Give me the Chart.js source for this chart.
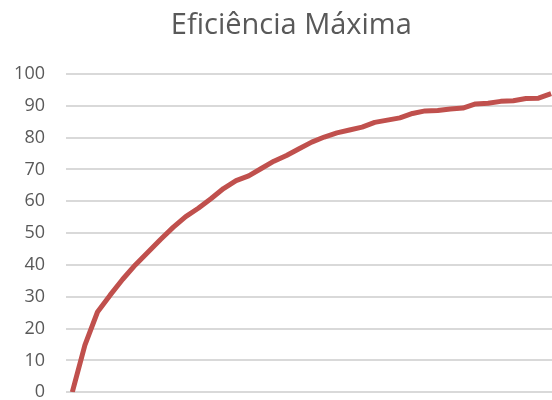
<!DOCTYPE html>
<html>
<head>
<meta charset="utf-8">
<script src="https://cdn.jsdelivr.net/npm/chart.js@4/dist/chart.umd.min.js"></script>
<style>
  html, body { margin: 0; padding: 0; overflow: hidden; background: #fff; }
  canvas { display: block; }
</style>
</head>
<body>
<canvas id="chart" width="584" height="424"></canvas>
<script>
const TITLE = "Eficiência Máxima";
const LINE_COLOR = "#c0504d";
const TEXT_COLOR = "#595959";
const GRID_COLOR = "#d9d9d9";

// the source chart runs a little past the cropped right edge,
// so the last two categories are outside the visible picture
const categories = [
  1, 2, 3, 4, 5, 6, 7, 8, 9, 10,
  11, 12, 13, 14, 15, 16, 17, 18, 19, 20,
  21, 22, 23, 24, 25, 26, 27, 28, 29, 30,
  31, 32, 33, 34, 35, 36, 37, 38, 39, 40, 41,
];
const efficiency = [
  0, 14.8, 25.2, 30.5, 35.5, 40, 44, 48, 51.8, 55.2,
  57.8, 60.8, 64, 66.5, 68, 70.3, 72.6, 74.4, 76.5, 78.6,
  80.2, 81.5, 82.4, 83.3, 84.8, 85.5, 86.2, 87.6, 88.4, 88.5,
  89, 89.3, 90.6, 90.8, 91.4, 91.6, 92.3, 92.4, 93.8,
];
const yTicks = [0, 10, 20, 30, 40, 50, 60, 70, 80, 90, 100];

const ctx = document.getElementById("chart").getContext("2d");
new Chart(ctx, {
  type: "line",
  data: {
    labels: categories,
    datasets: [
      {
        label: TITLE,
        data: efficiency,
        borderColor: LINE_COLOR,
        backgroundColor: LINE_COLOR,
        borderWidth: 5,
        borderJoinStyle: "round",
        borderCapStyle: "butt",
        pointRadius: 0,
        tension: 0,
        fill: false,
      },
    ],
  },
  options: {
    responsive: false,
    animation: false,
    devicePixelRatio: 1,
    // y axis label padding (31.8) sets the bottom edge: 424 - 31.8 = 392
    layout: { padding: { left: 0, right: 1.4, top: 0, bottom: 0 } },
    plugins: {
      legend: { display: false },
      tooltip: { enabled: false },
      title: {
        display: true,
        text: TITLE,
        color: TEXT_COLOR,
        font: { family: "Open Sans", size: 29, weight: "normal", lineHeight: 1.2 },
        padding: { top: 8, bottom: 31.2 },
      },
    },
    scales: {
      x: {
        type: "category",
        display: false,
        offset: true,
      },
      y: {
        min: yTicks[0],
        max: yTicks[yTicks.length - 1],
        afterBuildTicks: (scale) => {
          scale.ticks = yTicks.map((v) => ({ value: v }));
        },
        afterFit: (scale) => {
          scale.width = 66;
        },
        border: { display: false },
        grid: { color: GRID_COLOR, lineWidth: 2, drawTicks: false },
        ticks: {
          color: TEXT_COLOR,
          padding: 21,
          font: { family: "Open Sans", size: 18 },
        },
      },
    },
  },
});
</script>
</body>
</html>
